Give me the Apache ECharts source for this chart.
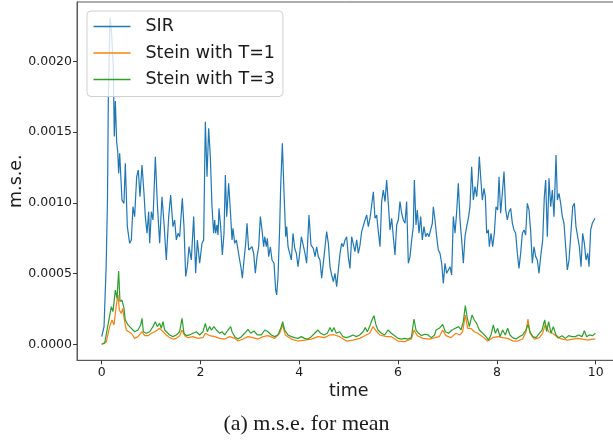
<!DOCTYPE html>
<html>
<head>
<meta charset="utf-8">
<script src="https://cdn.jsdelivr.net/npm/echarts@6/dist/echarts.min.js"></script>
<style>html,body{margin:0;padding:0;background:#fff}#c{width:613px;height:441px}</style>
</head>
<body>
<div id="c"></div>
<script>
// values are m.s.e. in units of 1e-3, as [time, value]
const UNIT = 1e-3;
const sir = [[0,0.054],[0.047,0.124],[0.09,0.55],[0.117,1.02],[0.134,1.73],[0.168,2.31],[0.2,2.2],[0.235,1.96],[0.255,1.47],[0.276,1.72],[0.303,1.43],[0.325,1.36],[0.343,1.209],[0.364,1.351],[0.411,1.02],[0.451,0.997],[0.478,1.28],[0.519,0.832],[0.566,0.714],[0.6,0.738],[0.633,0.973],[0.667,0.903],[0.708,1.185],[0.741,1.233],[0.775,1.044],[0.816,1.268],[0.856,1.068],[0.883,0.903],[0.917,0.785],[0.951,0.938],[0.971,0.714],[1.005,0.938],[1.038,0.879],[1.086,1.327],[1.126,0.997],[1.173,0.714],[1.22,1.044],[1.261,0.856],[1.308,0.597],[1.356,0.903],[1.396,1.056],[1.443,0.832],[1.477,0.879],[1.511,0.738],[1.544,0.785],[1.578,0.761],[1.632,1.032],[1.666,0.832],[1.7,0.479],[1.734,0.55],[1.767,0.691],[1.814,0.597],[1.862,0.903],[1.902,0.502],[1.936,0.738],[1.983,0.573],
[2.03,0.714],[2.064,0.738],[2.098,1.574],[2.132,1.185],[2.165,1.527],[2.199,1.327],[2.233,0.973],[2.266,0.785],[2.287,0.879],[2.307,0.785],[2.334,0.844],[2.354,0.773],[2.375,0.961],[2.408,0.832],[2.442,0.632],[2.476,0.785],[2.503,1.197],[2.53,0.903],[2.57,1.138],[2.604,0.95],[2.638,0.738],[2.658,0.82],[2.692,0.714],[2.726,0.738],[2.759,0.738],[2.793,0.596],[2.827,0.526],[2.847,0.467],[2.881,0.596],[2.915,0.714],[2.942,0.856],[2.975,0.667],[3.009,0.679],[3.043,0.69],[3.077,0.643],[3.11,0.502],[3.144,0.62],[3.178,0.69],[3.211,0.903],[3.245,0.809],[3.279,0.69],[3.299,0.761],[3.333,0.69],[3.353,0.75],[3.38,0.62],[3.414,0.69],[3.448,0.596],[3.488,0.573],[3.522,0.384],[3.542,0.349],[3.569,0.478],[3.603,0.832],[3.623,1.115],[3.657,1.421],[3.691,1.068],[3.725,0.761],[3.745,0.832],[3.772,0.69],[3.806,0.643],[3.839,0.596],[3.873,0.785],[3.907,0.679],[3.941,0.643],[3.974,0.549],[4.008,0.643],[4.042,0.761],
[4.115,0.643],[4.149,0.573],[4.196,0.914],[4.237,0.702],[4.284,0.679],[4.318,0.62],[4.351,0.69],[4.385,0.62],[4.419,0.596],[4.453,0.467],[4.5,0.62],[4.554,0.797],[4.588,0.714],[4.621,0.549],[4.655,0.49],[4.689,0.443],[4.723,0.502],[4.756,0.408],[4.79,0.396],[4.824,0.643],[4.857,0.714],[4.891,0.69],[4.925,0.738],[4.959,0.761],[4.992,0.62],[5.026,0.537],[5.06,0.761],[5.094,0.761],[5.127,0.655],[5.161,0.738],[5.195,0.643],[5.229,0.702],[5.262,0.797],[5.296,0.785],[5.33,0.879],[5.364,0.914],[5.397,0.832],[5.431,0.891],[5.465,0.903],[5.499,1.079],[5.532,0.891],[5.566,0.914],[5.6,0.797],[5.634,0.69],[5.667,1.009],[5.701,1.091],[5.735,1.009],[5.768,1.162],[5.802,0.997],[5.836,0.809],[5.87,0.891],[5.903,0.761],[5.937,0.632],[5.971,0.844],[6.005,0.879],[6.038,1.009],[6.072,0.927],[6.106,0.879],[6.14,0.856],[6.173,1.009],[6.207,0.573],[6.241,0.62],[6.275,0.738],[6.308,0.832],[6.329,1.162],[6.362,0.844],[6.389,0.95],[6.423,0.785],[6.457,0.903],[6.49,0.738],[6.524,0.832],[6.558,0.761],[6.592,0.785],[6.625,0.761],[6.659,0.773],[6.693,0.856],[6.713,0.973],[6.747,0.879],[6.781,0.761],[6.814,0.667],[6.848,0.643],[6.882,0.573],[6.916,0.431],[6.949,0.573],[6.983,0.502],[7.017,0.526],[7.051,0.549],[7.084,0.49],[7.118,0.903],[7.152,0.785],[7.186,0.938],[7.219,1.138],[7.253,0.879],[7.287,0.738],[7.321,0.573],[7.354,0.761],[7.388,0.832],[7.422,0.891],[7.455,0.973],[7.489,1.256],[7.523,1.02],[7.557,1.115],[7.59,1.044],[7.624,1.185],[7.644,1.327],[7.671,1.185],[7.705,1.02],[7.739,1.103],[7.766,1.044],[7.793,0.785],[7.827,0.809],[7.847,0.69],[7.881,0.785],[7.914,0.69],[7.948,0.785],[7.982,0.973],[8.016,0.95],[8.043,1.185],[8.076,0.927],[8.11,1.068],[8.144,1.221],[8.178,0.95],[8.211,0.879],[8.245,0.938],[8.279,0.961],[8.313,0.856],[8.346,0.809],[8.38,0.785],[8.414,0.643],[8.447,0.537],[8.481,0.643],[8.515,0.785],[8.549,0.809],[8.582,0.773],[8.616,0.997],[8.65,0.95],[8.684,0.797],[8.717,0.573],[8.751,0.69],[8.785,0.62],[8.818,0.596],[8.852,0.502],[8.886,0.62],[8.927,0.738],[8.96,1.044],[8.987,1.162],[9.021,0.761],[9.055,1.174],[9.089,0.973],[9.122,1.091],[9.156,0.903],[9.197,1.339],[9.224,1.02],[9.257,1.068],[9.291,0.997],[9.325,0.903],[9.358,0.856],[9.392,0.69],[9.426,0.526],[9.46,0.596],[9.493,0.761],[9.534,0.973],[9.568,0.997],[9.601,0.832],[9.635,0.761],[9.669,0.69],[9.703,0.549],[9.736,0.785],[9.77,0.714],[9.804,0.596],[9.838,0.643],[9.865,0.549],[9.898,0.809],[9.932,0.856],[9.986,0.891]];

const steinT1 = [[0,0],[0.094,0.019],[0.161,0.125],[0.208,0.172],[0.249,0.137],[0.296,0.278],[0.33,0.349],[0.357,0.243],[0.397,0.219],[0.424,0.254],[0.465,0.16],[0.499,0.101],[0.546,0.089],[0.6,0.078],[0.667,0.042],[0.735,0.054],[0.816,0.089],[0.869,0.061],[0.937,0.061],[1.005,0.078],[1.072,0.089],[1.126,0.101],[1.173,0.113],[1.241,0.089],[1.308,0.066],[1.376,0.047],[1.443,0.037],[1.511,0.042],[1.578,0.061],[1.626,0.101],[1.68,0.061],[1.747,0.047],[1.848,0.054],[1.949,0.042],[2.05,0.047],[2.098,0.078],[2.186,0.061],[2.287,0.054],[2.388,0.042],[2.489,0.037],[2.591,0.054],[2.624,0.061],[2.692,0.042],[2.76,0.023],[2.861,0.037],[2.962,0.054],[3.063,0.047],[3.164,0.037],[3.266,0.054],[3.367,0.061],[3.501,0.042],[3.602,0.078],[3.663,0.137],[3.717,0.066],[3.838,0.037],[3.973,0.023],[4.108,0.03],[4.243,0.037],[4.378,0.054],[4.513,0.047],[4.614,0.066],[4.716,0.066],[4.817,0.054],[4.952,0.023],[5.087,0.03],[5.222,0.042],[5.323,0.061],[5.424,0.078],[5.492,0.125],[5.539,0.101],[5.627,0.066],[5.762,0.054],[5.863,0.054],[5.998,0.023],[6.133,0.019],[6.268,0.037],[6.322,0.101],[6.389,0.061],[6.504,0.042],[6.639,0.037],[6.74,0.047],[6.834,0.054],[6.902,0.101],[6.969,0.061],[7.071,0.047],[7.172,0.078],[7.253,0.066],[7.307,0.089],[7.361,0.207],[7.408,0.113],[7.476,0.113],[7.543,0.089],[7.611,0.078],[7.712,0.054],[7.813,0.023],[7.914,0.047],[8.015,0.054],[8.117,0.047],[8.218,0.042],[8.319,0.023],[8.42,0.023],[8.521,0.037],[8.589,0.089],[8.629,0.179],[8.67,0.078],[8.758,0.037],[8.859,0.047],[8.926,0.078],[8.98,0.141],[9.048,0.089],[9.129,0.078],[9.23,0.047],[9.331,0.037],[9.433,0.03],[9.534,0.037],[9.635,0.042],[9.736,0.037],[9.837,0.03],[9.939,0.037],[9.993,0.037]];

const steinT3 = [[0,0],[0.06,0.007],[0.127,0.137],[0.195,0.266],[0.229,0.231],[0.276,0.384],[0.31,0.325],[0.343,0.518],[0.37,0.302],[0.411,0.313],[0.451,0.254],[0.478,0.172],[0.532,0.137],[0.6,0.113],[0.667,0.089],[0.735,0.101],[0.789,0.137],[0.816,0.184],[0.843,0.089],[0.904,0.078],[0.971,0.089],[1.038,0.125],[1.086,0.16],[1.126,0.125],[1.173,0.148],[1.207,0.113],[1.241,0.16],[1.275,0.101],[1.308,0.089],[1.376,0.066],[1.443,0.054],[1.511,0.066],[1.578,0.089],[1.626,0.184],[1.666,0.078],[1.713,0.061],[1.78,0.066],[1.848,0.078],[1.916,0.089],[1.983,0.066],[2.05,0.089],[2.098,0.148],[2.138,0.089],[2.186,0.125],[2.219,0.101],[2.273,0.125],[2.321,0.101],[2.388,0.078],[2.436,0.089],[2.489,0.066],[2.557,0.101],[2.611,0.125],[2.638,0.089],[2.692,0.054],[2.76,0.037],[2.827,0.054],[2.894,0.078],[2.962,0.106],[3.016,0.078],[3.083,0.094],[3.151,0.066],[3.232,0.066],[3.3,0.101],[3.367,0.089],[3.433,0.066],[3.501,0.054],[3.568,0.066],[3.636,0.125],[3.663,0.16],[3.703,0.101],[3.771,0.066],[3.838,0.054],[3.906,0.047],[3.973,0.042],[4.041,0.054],[4.108,0.042],[4.176,0.037],[4.243,0.054],[4.311,0.078],[4.378,0.101],[4.432,0.078],[4.5,0.066],[4.567,0.078],[4.621,0.118],[4.662,0.089],[4.702,0.118],[4.749,0.078],[4.817,0.089],[4.884,0.054],[4.952,0.047],[5.019,0.054],[5.087,0.066],[5.154,0.054],[5.222,0.066],[5.289,0.089],[5.336,0.118],[5.377,0.089],[5.424,0.125],[5.471,0.172],[5.512,0.202],[5.552,0.137],[5.593,0.101],[5.66,0.078],[5.728,0.066],[5.795,0.101],[5.863,0.078],[5.93,0.061],[5.998,0.042],[6.065,0.037],[6.133,0.042],[6.2,0.037],[6.268,0.047],[6.322,0.179],[6.362,0.101],[6.416,0.078],[6.47,0.061],[6.537,0.071],[6.605,0.066],[6.673,0.047],[6.74,0.066],[6.767,0.101],[6.834,0.113],[6.902,0.141],[6.956,0.089],[7.023,0.078],[7.091,0.101],[7.158,0.113],[7.226,0.125],[7.273,0.101],[7.32,0.16],[7.361,0.273],[7.401,0.184],[7.442,0.125],[7.496,0.207],[7.543,0.172],[7.59,0.148],[7.644,0.101],[7.712,0.078],[7.779,0.054],[7.833,0.03],[7.88,0.066],[7.928,0.137],[7.968,0.078],[8.015,0.113],[8.063,0.054],[8.117,0.101],[8.17,0.066],[8.218,0.113],[8.265,0.066],[8.319,0.047],[8.386,0.037],[8.454,0.054],[8.521,0.066],[8.589,0.101],[8.629,0.141],[8.67,0.089],[8.724,0.054],[8.791,0.047],[8.859,0.078],[8.913,0.101],[8.967,0.172],[9.007,0.089],[9.048,0.16],[9.095,0.078],[9.142,0.125],[9.196,0.066],[9.25,0.047],[9.318,0.061],[9.385,0.042],[9.453,0.061],[9.52,0.054],[9.588,0.054],[9.655,0.066],[9.723,0.054],[9.77,0.096],[9.817,0.054],[9.871,0.066],[9.939,0.061],[9.993,0.078]];

const seriesNames = ['SIR', 'Stein with T=1', 'Stein with T=3'];
const xTicks = [0, 2, 4, 6, 8, 10];
const yTicks = [0, 0.0005, 0.0010, 0.0015, 0.0020];

const toData = arr => arr.map(p => [p[0], p[1] * UNIT]);

const chart = echarts.init(document.getElementById('c'), null, {renderer: 'canvas'});
const tickFont = {fontFamily: 'DejaVu Sans', fontSize: 12.5, color: '#1a1a1a'};
chart.setOption({
  animation: false,
  backgroundColor: '#fff',
  grid: {left: 77, top: 2, width: 543.4, height: 358.3, show: true, borderColor: '#5a5a5a', borderWidth: 1, backgroundColor: 'transparent', containLabel: false, outerBoundsMode: 'none'},
  xAxis: {
    type: 'value', min: -0.5, max: 10.5,
    name: 'time', nameLocation: 'middle', nameGap: 22, nameMoveOverlap: false,
    nameTextStyle: {fontFamily: 'DejaVu Sans', fontSize: 17.5, color: '#1a1a1a'},
    axisLine: {show: true, onZero: false, lineStyle: {color: '#5a5a5a', width: 1}},
    axisTick: {show: true, length: 4, customValues: xTicks, lineStyle: {color: '#333'}},
    axisLabel: Object.assign({customValues: xTicks, margin: 6, formatter: v => String(Math.round(v))}, tickFont),
    splitLine: {show: false}
  },
  yAxis: {
    type: 'value', min: -0.1132e-3, max: 2.4208e-3,
    name: 'm.s.e.', nameLocation: 'middle', nameGap: 52, nameMoveOverlap: false,
    nameTextStyle: {fontFamily: 'DejaVu Sans', fontSize: 17.5, color: '#1a1a1a'},
    axisLine: {show: true, onZero: false, lineStyle: {color: '#5a5a5a', width: 1}},
    axisTick: {show: true, length: 4, customValues: yTicks, lineStyle: {color: '#333'}},
    axisLabel: Object.assign({customValues: yTicks, margin: 5, formatter: v => v.toFixed(4)}, tickFont),
    splitLine: {show: false}
  },
  legend: {
    orient: 'vertical', left: 87, top: 11,
    data: seriesNames,
    icon: 'rect',
    itemWidth: 37, itemHeight: 1.4, itemGap: 6.5,
    padding: [5.5, 8, 7, 6.5],
    backgroundColor: 'rgba(255,255,255,0.8)',
    borderColor: '#d0d0d0', borderWidth: 1, borderRadius: 4,
    textStyle: {fontFamily: 'DejaVu Sans', fontSize: 17.5, color: '#1a1a1a', lineHeight: 20, padding: [0, 0, 0, 10]}
  },
  graphic: [{
    type: 'text', left: 'center', top: 413,
    style: {text: '(a) m.s.e. for mean', font: '22px "Liberation Serif"', fill: '#1a1a1a'}
  }],
  series: [
    {name: seriesNames[0], type: 'line', data: toData(sir), symbol: 'none', lineStyle: {color: '#1f77b4', width: 1.2}, itemStyle: {color: '#1f77b4'}},
    {name: seriesNames[1], type: 'line', data: toData(steinT1), symbol: 'none', lineStyle: {color: '#ff7f0e', width: 1.2}, itemStyle: {color: '#ff7f0e'}},
    {name: seriesNames[2], type: 'line', data: toData(steinT3), symbol: 'none', lineStyle: {color: '#2ca02c', width: 1.2}, itemStyle: {color: '#2ca02c'}}
  ]
});
</script>
</body>
</html>
